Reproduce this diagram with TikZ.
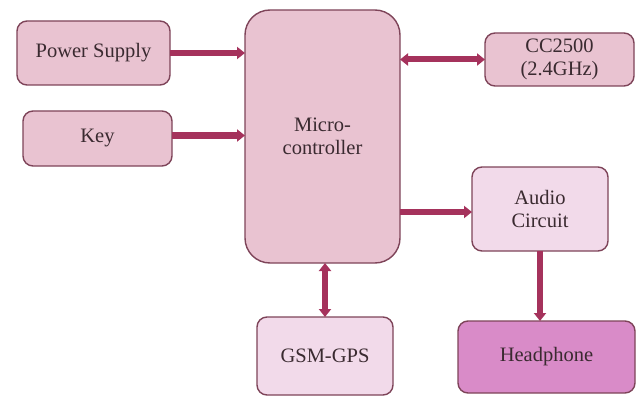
\documentclass[tikz,border=0pt]{standalone}
\usepackage{fontspec}
\setmainfont{Liberation Serif}
\usetikzlibrary{arrows.meta,calc}
\definecolor{boxfill}{HTML}{E9C3D1}
\definecolor{lightfill}{HTML}{F2DAEA}
\definecolor{darkfill}{HTML}{D98BC8}
\definecolor{boxline}{HTML}{7E4459}
\definecolor{arrowcol}{HTML}{A5325C}
\definecolor{txt}{HTML}{3A2A30}
\tikzset{
  blk/.style={draw=boxline, line width=1.4pt, fill=boxfill, rounded corners=10pt,
    align=center, inner sep=0pt, outer sep=0pt, text=txt,
    font=\fontsize{20.5}{23}\selectfont},
  lblk/.style={blk, fill=lightfill},
  dblk/.style={blk, fill=darkfill},
  arr/.style={draw=arrowcol, line width=6pt, -{Triangle[length=8pt,width=12pt]}},
  darr/.style={draw=arrowcol, line width=6pt, {Triangle[length=8pt,width=12pt]}-{Triangle[length=8pt,width=12pt]}}
}
\begin{document}
\begin{tikzpicture}[x=1pt,y=-1pt]
\useasboundingbox (0,0) rectangle (638,396);
\node[blk, minimum width=153pt, minimum height=64pt] (power) at (93.5,53) {Power Supply};
\node[blk, minimum width=149pt, minimum height=55pt] (key) at (97.5,138.5) {Key};
\node[blk, rounded corners=25pt, minimum width=155pt, minimum height=253pt] (mcu) at (322.5,136.5) {Micro-\\controller};
\node[blk, minimum width=149pt, minimum height=53pt] (cc) at (559.5,59.5) {CC2500\\(2.4GHz)};
\node[lblk, minimum width=136pt, minimum height=84pt] (audio) at (540,209) {Audio\\Circuit};
\node[lblk, minimum width=136pt, minimum height=78pt] (gsm) at (325,356) {GSM-GPS};
\node[dblk, minimum width=177pt, minimum height=72pt] (head) at (546.5,357) {Headphone};
\draw[arr] (power.east) -- (power.east -| mcu.west);
\draw[arr] ($(key.east)+(0,-3)$) coordinate (k1) -- (k1 -| mcu.west);
\draw[darr] (cc.west -| mcu.east) -- (cc.west);
\coordinate (a1) at ($(audio.west)+(0,3)$);
\draw[arr] (a1 -| mcu.east) -- (a1);
\draw[darr] (gsm.north |- mcu.south) -- (gsm.north);
\draw[arr] (audio.south) -- (audio.south |- head.north);
\end{tikzpicture}
\end{document}
